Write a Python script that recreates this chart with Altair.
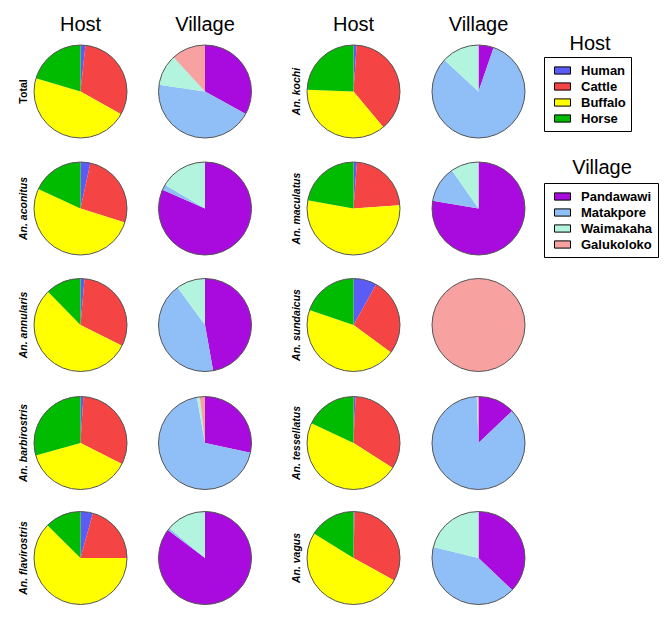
import math
import altair as alt
import pandas as pd

# ---------------- data ----------------
host_categories = ["Human", "Cattle", "Buffalo", "Horse"]
host_colors = ["#5B5BF6", "#F44444", "#FFFF00", "#00BB00"]
village_categories = ["Pandawawi", "Matakpore", "Waimakaha", "Galukoloko"]
village_colors = ["#A90BDF", "#90BFF7", "#B3F4DF", "#F7A1A1"]

left_species = ["Total", "An. aconitus", "An. annularis", "An. barbirostris", "An. flavirostris"]
right_species = ["An. kochi", "An. maculatus", "An. sundaicus", "An. tessellatus", "An. vagus"]

column_titles = ["Host", "Village", "Host", "Village"]
legend_titles = ["Host", "Village"]

# percentages, in the order of host_categories
host_total = [1.7, 31.4, 46.5, 20.4]
host_aconitus = [3.4, 26.5, 52.0, 18.1]
host_annularis = [1.4, 31.0, 55.3, 12.3]
host_barbirostris = [1.0, 31.5, 38.2, 29.3]
host_flavirostris = [4.3, 20.7, 62.4, 12.6]
host_kochi = [1.1, 37.8, 36.7, 24.4]
host_maculatus = [1.2, 22.7, 53.9, 22.2]
host_sundaicus = [8.1, 27.0, 45.1, 19.8]
host_tessellatus = [0.7, 33.3, 48.0, 18.0]
host_vagus = [0.4, 32.6, 50.8, 16.2]

# percentages, in the order of village_categories
village_total = [33.0, 44.3, 10.9, 11.8]
village_aconitus = [81.6, 1.9, 16.5, 0.0]
village_annularis = [47.2, 42.8, 10.0, 0.0]
village_barbirostris = [28.4, 68.8, 1.0, 1.8]
village_flavirostris = [85.3, 0.8, 13.9, 0.0]
village_kochi = [5.3, 81.6, 13.1, 0.0]
village_maculatus = [77.7, 12.6, 9.7, 0.0]
village_sundaicus = [0.0, 0.0, 0.0, 100.0]
village_tessellatus = [12.9, 86.5, 0.3, 0.3]
village_vagus = [37.1, 41.7, 21.2, 0.0]

host_values = {
    "Total": host_total, "An. aconitus": host_aconitus, "An. annularis": host_annularis,
    "An. barbirostris": host_barbirostris, "An. flavirostris": host_flavirostris,
    "An. kochi": host_kochi, "An. maculatus": host_maculatus, "An. sundaicus": host_sundaicus,
    "An. tessellatus": host_tessellatus, "An. vagus": host_vagus,
}
village_values = {
    "Total": village_total, "An. aconitus": village_aconitus, "An. annularis": village_annularis,
    "An. barbirostris": village_barbirostris, "An. flavirostris": village_flavirostris,
    "An. kochi": village_kochi, "An. maculatus": village_maculatus, "An. sundaicus": village_sundaicus,
    "An. tessellatus": village_tessellatus, "An. vagus": village_vagus,
}

# ---------------- tables ----------------
slices, pies, labels = [], [], []
for g, species_list in enumerate([left_species, right_species]):
    for r, sp in enumerate(species_list):
        labels.append({"species": sp, "group": g, "row": r, "italic": sp != "Total"})
        for p, (panel, cats, vals) in enumerate([("Host", host_categories, host_values[sp]),
                                                  ("Village", village_categories, village_values[sp])]):
            col = 2 * g + p
            pies.append({"species": sp, "panel": panel, "col": col, "row": r})
            for k, (c, v) in enumerate(zip(cats, vals)):
                slices.append({"species": sp, "panel": panel, "col": col, "row": r,
                               "category": c, "k": k, "value": v})

slices_df = pd.DataFrame(slices)
pies_df = pd.DataFrame(pies)
labels_df = pd.DataFrame(labels)
titles_df = pd.DataFrame({"title": column_titles, "col": [0, 1, 2, 3]})

# ---------------- layout ----------------
W, H = 653, 605
R = 46.5
x_scale = alt.Scale(domain=[0, 1, 2, 3], range=[72.5, 197, 345.5, 470.5])
y_scale = alt.Scale(domain=[0, 1, 2, 3, 4], range=[83.5, 200.5, 317, 435, 550])
theta_scale = alt.Scale(domain=[0, 1], range=[0, 2 * math.pi])
FONT = "Liberation Sans"

X = alt.X("col:Q", scale=x_scale, axis=None)
Y = alt.Y("row:Q", scale=y_scale, axis=None)


def legend(x, y):
    return alt.Legend(
        title=None, orient="none", legendX=x, legendY=y,
        strokeColor="black", padding=5,
        symbolType="M-1,-0.45L1,-0.45L1,0.45L-1,0.45Z", symbolSize=256,
        symbolStrokeColor="black", symbolStrokeWidth=1, symbolOpacity=1,
        symbolOffset=5, rowPadding=0, labelOffset=10,
        labelFont=FONT, labelFontWeight="bold", labelFontSize=13, labelColor="black",
    )


base = alt.Chart(slices_df).transform_filter("datum.value > 0").transform_joinaggregate(
    total="sum(value)", groupby=["species", "panel"]
).transform_window(
    cum="sum(value)", sort=[alt.SortField("k", order="ascending")],
    groupby=["species", "panel"], frame=[None, 0]
).transform_calculate(
    start="(datum.cum - datum.value) / datum.total",
    end="datum.cum / datum.total",
)

host_arcs = base.transform_filter("datum.panel == 'Host'").mark_arc(radius=R).encode(
    x=X, y=Y,
    theta=alt.Theta("start:Q", scale=theta_scale, stack=None),
    theta2="end:Q",
    color=alt.Color("category:N", scale=alt.Scale(domain=host_categories, range=host_colors),
                    legend=legend(536, 49)),
)

village_arcs = base.transform_filter("datum.panel == 'Village'").mark_arc(radius=R).encode(
    x=X, y=Y,
    theta=alt.Theta("start:Q", scale=theta_scale, stack=None),
    theta2="end:Q",
    color=alt.Color("category:N", scale=alt.Scale(domain=village_categories, range=village_colors),
                    legend=legend(536, 175)),
)

outlines = alt.Chart(pies_df).mark_arc(
    radius=R, theta=0, theta2=2 * math.pi, fillOpacity=0, stroke="#555555", strokeWidth=1
).encode(x=X, y=Y)

col_titles = alt.Chart(titles_df).mark_text(
    font=FONT, fontSize=20, color="black", baseline="middle", align="center"
).encode(x=X, y=alt.value(17), text="title:N")

label_x = alt.X("group:Q", scale=alt.Scale(domain=[0, 1], range=[16, 289]), axis=None)

row_labels_plain = alt.Chart(labels_df).transform_filter("!datum.italic").mark_text(
    font=FONT, fontSize=10.5, fontWeight="bold", angle=270, color="black",
    baseline="middle", align="center"
).encode(x=label_x, y=Y, text="species:N")

row_labels_italic = alt.Chart(labels_df).transform_filter("datum.italic").mark_text(
    font=FONT, fontSize=10.5, fontWeight="bold", fontStyle="italic", angle=270, color="black",
    baseline="middle", align="center"
).encode(x=label_x, y=Y, text="species:N")

legend_title_df = pd.DataFrame({"title": legend_titles})
host_legend_title = alt.Chart(legend_title_df).transform_filter("datum.title == 'Host'").mark_text(
    font=FONT, fontSize=20, color="black", baseline="middle", align="center"
).encode(x=alt.value(582), y=alt.value(36), text="title:N")
village_legend_title = alt.Chart(legend_title_df).transform_filter("datum.title == 'Village'").mark_text(
    font=FONT, fontSize=20, color="black", baseline="middle", align="center"
).encode(x=alt.value(594), y=alt.value(160), text="title:N")

chart = alt.layer(
    host_arcs, village_arcs, outlines, col_titles,
    row_labels_plain, row_labels_italic, host_legend_title, village_legend_title,
).resolve_scale(
    color="independent", x="independent"
).properties(
    width=W, height=H, padding=0, background="white"
).configure_view(stroke=None)

chart.save("out.html", embed_options={"renderer": "svg", "actions": False})
